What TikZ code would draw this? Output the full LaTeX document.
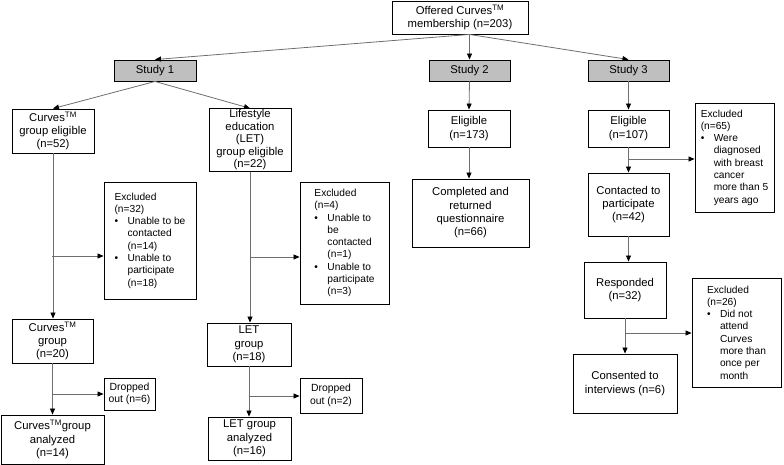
\documentclass[tikz,border=0pt]{standalone}
\usepackage{fontspec}
\setmainfont{Liberation Sans}
\usepackage{tikz}
\usetikzlibrary{arrows.meta, positioning, calc}
\definecolor{fcGray}{HTML}{BFBFBF}
\definecolor{fcLine}{HTML}{6E6E6E}
\newcommand{\cvTM}{\textsuperscript{TM}}
\newcommand{\bitem}{\makebox[13pt][l]{\textbullet}}
\newcommand{\bcont}{\hspace*{13pt}}

\begin{document}
\begin{tikzpicture}[x=1pt, y=-1pt,
  box/.style={draw, line width=0.9pt, align=center, inner sep=1pt,
              font=\fontsize{11.3}{13.3}\selectfont},
  studybox/.style={box, fill=fcGray},
  side/.style={draw, line width=0.9pt, align=left, inner sep=1pt,
               font=\fontsize{10.2}{12.3}\selectfont},
  drop/.style={box, font=\fontsize{10.4}{12.6}\selectfont},
  arr/.style={draw=fcLine, line width=0.8pt, -{Triangle[length=6pt,width=5pt,color=black]}},
]
  \useasboundingbox (0,0) rectangle (784,465);

  % top and the three studies
  \node[box, minimum width=136pt, minimum height=33pt] (offer) at (460,17.5) {Offered Curves\cvTM\\membership (n=203)};
  \node[studybox, minimum width=82pt, minimum height=21pt] (s1) at (155,70.5) {Study 1};
  \node[studybox, minimum width=81pt, minimum height=21pt] (s2) at (469.5,70.5) {Study 2};
  \node[studybox, minimum width=81pt, minimum height=21pt] (s3) at (628.5,70.5) {Study 3};

  % study 1
  \node[box, minimum width=82pt, minimum height=44pt] (cvElig) at (53,131) {Curves\cvTM\\group eligible\\(n=52)};
  \node[box, minimum width=82pt, minimum height=62pt, font=\fontsize{11.3}{12.5}\selectfont] (letElig) at (250,140) {Lifestyle\\education\\(LET)\\group eligible\\(n=22)};
  \node[side, minimum width=92pt, minimum height=117pt] (exA) at (150,240.5)
    {Excluded\\(n=32)\\\bitem Unable to be\\\bcont contacted\\\bcont (n=14)\\\bitem Unable to\\\bcont participate\\\bcont (n=18)};
  \node[side, minimum width=89pt, minimum height=122pt] (exB) at (344.5,243)
    {Excluded\\(n=4)\\\bitem Unable to\\\bcont be\\\bcont contacted\\\bcont (n=1)\\\bitem Unable to\\\bcont participate\\\bcont (n=3)};
  \node[box, minimum width=81pt, minimum height=44pt] (cvGrp) at (52.5,341) {Curves\cvTM\\group\\(n=20)};
  \node[box, minimum width=84pt, minimum height=43pt] (letGrp) at (249,344.5) {LET\\group\\(n=18)};
  \node[drop, minimum width=51pt, minimum height=32pt] (dropA) at (129.5,394) {Dropped\\out (n=6)};
  \node[drop, minimum width=62pt, minimum height=35pt] (dropB) at (331,395.5) {Dropped\\out (n=2)};
  \node[box, minimum width=103pt, minimum height=49pt] (cvDone) at (52.5,439.5) {Curves\cvTM group\\analyzed\\(n=14)};
  \node[box, minimum width=83pt, minimum height=43pt] (letDone) at (249.5,438.5) {LET group\\analyzed\\(n=16)};

  % study 2
  \node[box, minimum width=82pt, minimum height=37pt] (elig2) at (469,128.5) {Eligible\\(n=173)};
  \node[box, minimum width=117pt, minimum height=68pt] (quest) at (470.5,213) {Completed and\\returned\\questionnaire\\(n=66)};

  % study 3
  \node[box, minimum width=81pt, minimum height=37pt] (elig3) at (628.5,128.5) {Eligible\\(n=107)};
  \node[side, minimum width=79pt, minimum height=109pt] (exC) at (734.5,157.5)
    {Excluded\\(n=65)\\\bitem Were\\\bcont diagnosed\\\bcont with breast\\\bcont cancer\\\bcont more than 5\\\bcont years ago};
  \node[box, minimum width=81pt, minimum height=63pt] (contact) at (628.5,204.5) {Contacted to\\participate\\(n=42)};
  \node[box, minimum width=82pt, minimum height=56pt] (resp) at (625,290) {Responded\\(n=32)};
  \node[side, minimum width=89pt, minimum height=109pt] (exD) at (736.5,332.5)
    {Excluded\\(n=26)\\\bitem Did not\\\bcont attend\\\bcont Curves\\\bcont more than\\\bcont once per\\\bcont month};
  \node[box, minimum width=104pt, minimum height=59pt] (consent) at (625,383.5) {Consented to\\interviews (n=6)};

  % branch points
  \coordinate (fan) at (offer.south -| s2.north);
  \coordinate (brA) at (52,256);
  \coordinate (brB) at (250,257);
  \coordinate (brC) at (52,394);
  \coordinate (brD) at (250,396);
  \coordinate (brE) at (629,159);
  \coordinate (brF) at (625,333);

  % connectors
  \draw[arr] (fan) -- (s1.north);
  \draw[arr] (fan) -- (s2.north);
  \draw[arr] (fan) -- (s3.north);
  \draw[arr] (s1.south) -- (cvElig.north);
  \draw[arr] (s1.south) -- (letElig.north);
  \draw[arr] (cvElig.south) -- (cvElig.south |- cvGrp.north);
  \draw[arr] (brA) -- (brA -| exA.west);
  \draw[arr] (letElig.south) -- (letElig.south |- letGrp.north);
  \draw[arr] (brB) -- (brB -| exB.west);
  \draw[arr] (cvGrp.south) -- (cvGrp.south |- cvDone.north);
  \draw[arr] (brC) -- (brC -| dropA.west);
  \draw[arr] (letGrp.south) -- (letGrp.south |- letDone.north);
  \draw[arr] (brD) -- (brD -| dropB.west);
  \draw[arr] (s2.south) -- (elig2.north);
  \draw[arr] (elig2.south) -- (elig2.south |- quest.north);
  \draw[arr] (s3.south) -- (elig3.north);
  \draw[arr] (elig3.south) -- (elig3.south |- contact.north);
  \draw[arr] (brE) -- (brE -| exC.west);
  \draw[arr] (contact.south) -- (contact.south |- resp.north);
  \draw[arr] (resp.south) -- (resp.south |- consent.north);
  \draw[arr] (brF) -- (brF -| exD.west);
\end{tikzpicture}
\end{document}
